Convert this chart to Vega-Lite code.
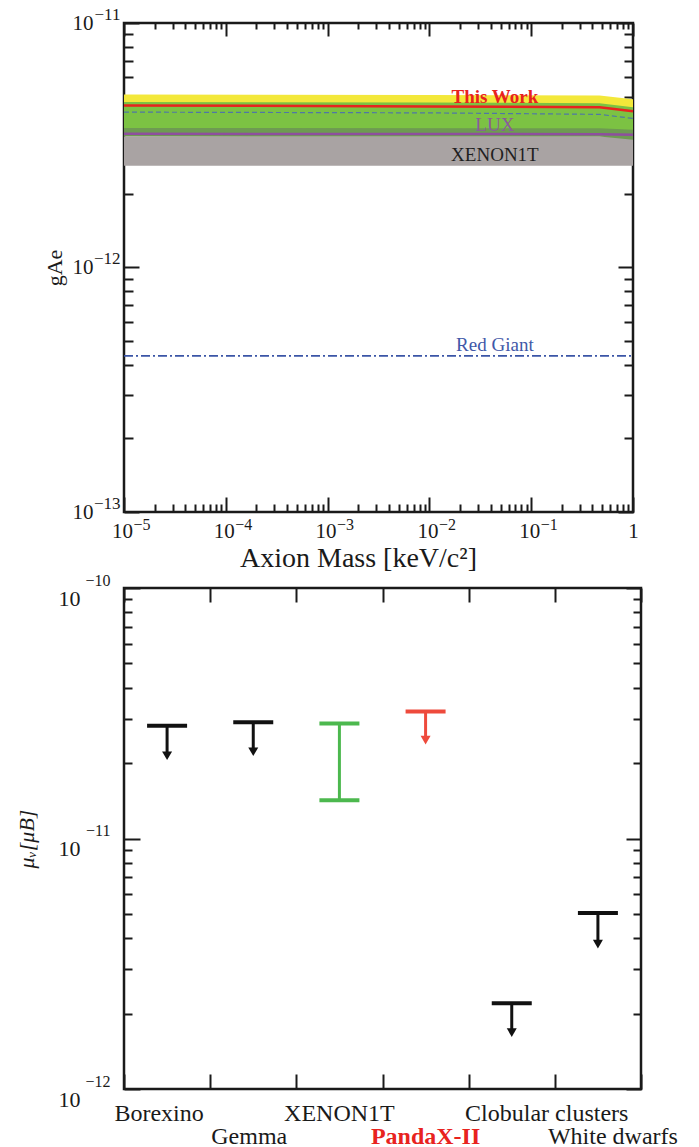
{
  "$schema": "https://vega.github.io/schema/vega-lite/v6.json",
  "padding": {"left": 13, "top": 3, "right": 0, "bottom": 0},
  "bounds": "flush",
  "spacing": 76,
  "config": {
    "view": {"stroke": "#1a1a1a", "strokeWidth": 2.5},
    "font": "Liberation Serif",
    "tick": {"opacity": 1},
    "axis": {
      "domain": false, "grid": false, "tickColor": "#1a1a1a", "tickWidth": 2,
      "labelFont": "Liberation Serif", "titleFont": "Liberation Serif",
      "labelColor": "#1a1a1a", "titleColor": "#1a1a1a", "titleFontWeight": "normal",
      "labelFlush": false, "labelOverlap": false, "labelBound": false, "labelFontSize": 20
    }
  },
  "resolve": {"scale": {"color": "independent"}},
  "datasets": {
    "bands": [
      {"band": "yellow", "mass": 1e-5, "hi": 5.10e-12, "lo": 3.50e-12},
      {"band": "yellow", "mass": 0.01, "hi": 5.08e-12, "lo": 3.50e-12},
      {"band": "yellow", "mass": 0.47, "hi": 5.05e-12, "lo": 3.50e-12},
      {"band": "yellow", "mass": 1, "hi": 4.88e-12, "lo": 3.45e-12},
      {"band": "green", "mass": 1e-5, "hi": 4.75e-12, "lo": 3.55e-12},
      {"band": "green", "mass": 0.01, "hi": 4.73e-12, "lo": 3.55e-12},
      {"band": "green", "mass": 0.47, "hi": 4.70e-12, "lo": 3.55e-12},
      {"band": "green", "mass": 1, "hi": 4.52e-12, "lo": 3.45e-12},
      {"band": "gray", "mass": 1e-5, "hi": 3.44e-12, "lo": 2.61e-12},
      {"band": "gray", "mass": 1, "hi": 3.44e-12, "lo": 2.61e-12},
      {"band": "olive", "mass": 1e-5, "hi": 3.72e-12, "lo": 3.44e-12},
      {"band": "olive", "mass": 0.47, "hi": 3.71e-12, "lo": 3.43e-12},
      {"band": "olive", "mass": 1, "hi": 3.66e-12, "lo": 3.33e-12}
    ],
    "curves": [
      {"curve": "red", "mass": 1e-5, "g": 4.60e-12},
      {"curve": "red", "mass": 0.01, "g": 4.56e-12},
      {"curve": "red", "mass": 0.47, "g": 4.52e-12},
      {"curve": "red", "mass": 1, "g": 4.36e-12},
      {"curve": "dashed", "mass": 1e-5, "g": 4.32e-12},
      {"curve": "dashed", "mass": 0.01, "g": 4.29e-12},
      {"curve": "dashed", "mass": 0.47, "g": 4.23e-12},
      {"curve": "dashed", "mass": 1, "g": 4.07e-12},
      {"curve": "purple", "mass": 1e-5, "g": 3.52e-12},
      {"curve": "purple", "mass": 0.47, "g": 3.51e-12},
      {"curve": "purple", "mass": 1, "g": 3.49e-12},
      {"curve": "redgiant", "mass": 1e-5, "g": 4.35e-13},
      {"curve": "redgiant", "mass": 1, "g": 4.35e-13}
    ],
    "notes": [
      {"note": "This Work", "mass": 0.044, "g": 5.0e-12},
      {"note": "LUX", "mass": 0.044, "g": 3.82e-12},
      {"note": "XENON1T", "mass": 0.044, "g": 2.88e-12},
      {"note": "Red Giant", "mass": 0.044, "g": 4.82e-13}
    ],
    "mu": [
      {"exp": "Borexino", "kind": "limit", "upper": 2.82e-11, "lower": 2.14e-11},
      {"exp": "Gemma", "kind": "limit", "upper": 2.91e-11, "lower": 2.22e-11},
      {"exp": "XENON1T", "kind": "range", "upper": 2.88e-11, "lower": 1.42e-11},
      {"exp": "PandaX-II", "kind": "limit", "upper": 3.21e-11, "lower": 2.47e-11},
      {"exp": "Clobular clusters", "kind": "limit", "upper": 2.2e-12, "lower": 1.68e-12},
      {"exp": "White dwarfs", "kind": "limit", "upper": 5.04e-12, "lower": 3.79e-12}
    ]
  },
  "vconcat": [
    {
      "width": 509, "height": 489,
      "layer": [
        {
          "data": {"name": "bands"}, "transform": [{"filter": "datum.band == 'yellow'"}],
          "mark": {"type": "area", "color": "#F3E83A", "opacity": 1},
          "encoding": {
            "x": {"field": "mass", "type": "quantitative", "scale": {"type": "log", "domain": [1e-5, 1], "nice": false},
              "axis": {"orient": "bottom", "title": null, "labels": false,
                "values": [1e-5,2e-5,3e-5,4e-5,5e-5,6e-5,7e-5,8e-5,9e-5,1e-4,2e-4,3e-4,4e-4,5e-4,6e-4,7e-4,8e-4,9e-4,1e-3,2e-3,3e-3,4e-3,5e-3,6e-3,7e-3,8e-3,9e-3,1e-2,2e-2,3e-2,4e-2,5e-2,6e-2,7e-2,8e-2,9e-2,0.1,0.2,0.3,0.4,0.5,0.6,0.7,0.8,0.9,1],
                "tickSize": {"condition": {"test": "abs(log(datum.value)/LN10 - round(log(datum.value)/LN10)) < 0.001", "value": -15}, "value": -8}}},
            "y": {"field": "hi", "type": "quantitative", "scale": {"type": "log", "domain": [1e-13, 1e-11], "nice": false},
              "axis": {"orient": "left", "title": null, "labels": false,
                "values": [1e-13,2e-13,3e-13,4e-13,5e-13,6e-13,7e-13,8e-13,9e-13,1e-12,2e-12,3e-12,4e-12,5e-12,6e-12,7e-12,8e-12,9e-12,1e-11],
                "tickSize": {"condition": {"test": "abs(log(datum.value)/LN10 - round(log(datum.value)/LN10)) < 0.001", "value": -15}, "value": -9}}},
            "y2": {"field": "lo"}
          }
        },
        {
          "data": {"name": "bands"}, "transform": [{"filter": "datum.band == 'green'"}],
          "mark": {"type": "area", "color": "#7CC243"},
          "encoding": {
            "x": {"field": "mass", "type": "quantitative", "scale": {"type": "log", "domain": [1e-5, 1], "nice": false},
              "axis": {"orient": "bottom", "title": "Axion Mass [keV/c²]", "titleFontSize": 28, "titlePadding": 3, "titleX": 234,
                "values": [1e-5, 1e-4, 1e-3, 1e-2, 0.1, 1], "ticks": false, "tickSize": 0,
                "labelExpr": "datum.value > 0.5 ? '1' : '10'", "labelFontSize": 21, "labelBaseline": "top", "labelPadding": 8,
                "labelOffset": {"condition": {"test": "datum.value > 0.5", "value": 0}, "value": -2}}},
            "y": {"field": "hi", "type": "quantitative", "scale": {"type": "log", "domain": [1e-13, 1e-11], "nice": false},
              "axis": {"orient": "left", "title": "gAe", "titleFontSize": 22, "titlePadding": 6,
                "values": [1e-13, 1e-12, 1e-11], "ticks": false, "tickSize": 0,
                "labelExpr": "'10'", "labelFontSize": 21, "labelBaseline": "middle", "labelPadding": 31}},
            "y2": {"field": "lo"}
          }
        },
        {
          "data": {"name": "bands"}, "transform": [{"filter": "datum.band == 'gray'"}],
          "mark": {"type": "area", "color": "#A9A3A3"},
          "encoding": {
            "x": {"field": "mass", "type": "quantitative", "scale": {"type": "log", "domain": [1e-5, 1], "nice": false},
              "axis": {"orient": "bottom", "title": null,
                "values": [1e-5, 1e-4, 1e-3, 1e-2, 0.1], "ticks": false, "tickSize": 0,
                "labelExpr": "'−' + format(-round(log(datum.value)/LN10), 'd')", "labelFontSize": 16, "labelAlign": "left", "labelBaseline": "top", "labelPadding": 4, "labelOffset": 9}},
            "y": {"field": "hi", "type": "quantitative", "scale": {"type": "log", "domain": [1e-13, 1e-11], "nice": false},
              "axis": {"orient": "left", "title": null,
                "values": [1e-13, 1e-12, 1e-11], "ticks": false, "tickSize": 0,
                "labelExpr": "'−' + format(-round(log(datum.value)/LN10), 'd')", "labelFontSize": 17, "labelBaseline": "middle", "labelPadding": 4, "labelOffset": -9}},
            "y2": {"field": "lo"}
          }
        },
        {
          "data": {"name": "bands"}, "transform": [{"filter": "datum.band == 'olive'"}],
          "mark": {"type": "area", "color": "#6E9A52"},
          "encoding": {
            "x": {"field": "mass", "type": "quantitative", "scale": {"type": "log", "domain": [1e-5, 1], "nice": false}, "axis": null},
            "y": {"field": "hi", "type": "quantitative", "scale": {"type": "log", "domain": [1e-13, 1e-11], "nice": false}, "axis": null},
            "y2": {"field": "lo"}
          }
        },
        {
          "data": {"name": "curves"}, "transform": [{"filter": "datum.curve == 'purple'"}],
          "mark": {"type": "line", "color": "#8E4F9E", "strokeWidth": 2.5},
          "encoding": {
            "x": {"field": "mass", "type": "quantitative", "scale": {"type": "log", "domain": [1e-5, 1], "nice": false}, "axis": null},
            "y": {"field": "g", "type": "quantitative", "scale": {"type": "log", "domain": [1e-13, 1e-11], "nice": false}, "axis": null}
          }
        },
        {
          "data": {"name": "curves"}, "transform": [{"filter": "datum.curve == 'dashed'"}],
          "mark": {"type": "line", "color": "#4F77A6", "strokeWidth": 1.2, "strokeDash": [5, 3]},
          "encoding": {
            "x": {"field": "mass", "type": "quantitative", "scale": {"type": "log", "domain": [1e-5, 1], "nice": false}, "axis": null},
            "y": {"field": "g", "type": "quantitative", "scale": {"type": "log", "domain": [1e-13, 1e-11], "nice": false}, "axis": null}
          }
        },
        {
          "data": {"name": "curves"}, "transform": [{"filter": "datum.curve == 'red'"}],
          "mark": {"type": "line", "color": "#E8231E", "strokeWidth": 2.5},
          "encoding": {
            "x": {"field": "mass", "type": "quantitative", "scale": {"type": "log", "domain": [1e-5, 1], "nice": false}, "axis": null},
            "y": {"field": "g", "type": "quantitative", "scale": {"type": "log", "domain": [1e-13, 1e-11], "nice": false}, "axis": null}
          }
        },
        {
          "data": {"name": "curves"}, "transform": [{"filter": "datum.curve == 'redgiant'"}],
          "mark": {"type": "line", "color": "#3B55A6", "strokeWidth": 1.6, "strokeDash": [9, 3, 2, 3]},
          "encoding": {
            "x": {"field": "mass", "type": "quantitative", "scale": {"type": "log", "domain": [1e-5, 1], "nice": false},
              "axis": {"orient": "top", "title": null, "labels": false,
                "values": [1e-5,2e-5,3e-5,4e-5,5e-5,6e-5,7e-5,8e-5,9e-5,1e-4,2e-4,3e-4,4e-4,5e-4,6e-4,7e-4,8e-4,9e-4,1e-3,2e-3,3e-3,4e-3,5e-3,6e-3,7e-3,8e-3,9e-3,1e-2,2e-2,3e-2,4e-2,5e-2,6e-2,7e-2,8e-2,9e-2,0.1,0.2,0.3,0.4,0.5,0.6,0.7,0.8,0.9,1],
                "tickSize": {"condition": {"test": "abs(log(datum.value)/LN10 - round(log(datum.value)/LN10)) < 0.001", "value": -13}, "value": -6}}},
            "y": {"field": "g", "type": "quantitative", "scale": {"type": "log", "domain": [1e-13, 1e-11], "nice": false},
              "axis": {"orient": "right", "title": null, "labels": false,
                "values": [1e-13,2e-13,3e-13,4e-13,5e-13,6e-13,7e-13,8e-13,9e-13,1e-12,2e-12,3e-12,4e-12,5e-12,6e-12,7e-12,8e-12,9e-12,1e-11],
                "tickSize": {"condition": {"test": "abs(log(datum.value)/LN10 - round(log(datum.value)/LN10)) < 0.001", "value": -15}, "value": -9}}}
          }
        },
        {
          "data": {"name": "notes"}, "transform": [{"filter": "datum.note == 'This Work'"}],
          "mark": {"type": "text", "font": "Liberation Serif", "fontSize": 19, "fontWeight": "bold", "color": "#E8231E"},
          "encoding": {
            "x": {"field": "mass", "type": "quantitative", "scale": {"type": "log", "domain": [1e-5, 1], "nice": false}, "axis": null},
            "y": {"field": "g", "type": "quantitative", "scale": {"type": "log", "domain": [1e-13, 1e-11], "nice": false}, "axis": null},
            "text": {"field": "note"}
          }
        },
        {
          "data": {"name": "notes"}, "transform": [{"filter": "datum.note != 'This Work'"}],
          "mark": {"type": "text", "font": "Liberation Serif", "fontSize": 19},
          "encoding": {
            "x": {"field": "mass", "type": "quantitative", "scale": {"type": "log", "domain": [1e-5, 1], "nice": false}, "axis": null},
            "y": {"field": "g", "type": "quantitative", "scale": {"type": "log", "domain": [1e-13, 1e-11], "nice": false}, "axis": null},
            "text": {"field": "note"},
            "color": {"field": "note", "type": "nominal", "scale": {"domain": ["LUX", "XENON1T", "Red Giant"], "range": ["#8A5A9E", "#1f1f1f", "#3F58A8"]}, "legend": null}
          }
        }
      ],
      "resolve": {"axis": {"x": "independent", "y": "independent"}}
    },
    {
      "width": 517, "height": 501,
      "data": {"name": "mu"},
      "layer": [
        {
          "mark": {"type": "rule", "strokeWidth": 3},
          "encoding": {
            "x": {"field": "exp", "type": "nominal", "sort": null,
              "scale": {"type": "band", "domain": ["Borexino", "Gemma", "XENON1T", "PandaX-II", "Clobular clusters", "White dwarfs"], "paddingInner": 0, "paddingOuter": 0},
              "axis": {"orient": "bottom", "title": null, "labels": false, "tickBand": "extent", "tickSize": -15}},
            "y": {"field": "upper", "type": "quantitative", "scale": {"type": "log", "domain": [1e-12, 1e-10], "nice": false},
              "axis": {"orient": "left", "title": null, "labels": false,
                "values": [1e-12,2e-12,3e-12,4e-12,5e-12,6e-12,7e-12,8e-12,9e-12,1e-11,2e-11,3e-11,4e-11,5e-11,6e-11,7e-11,8e-11,9e-11,1e-10],
                "tickSize": {"condition": {"test": "abs(log(datum.value)/LN10 - round(log(datum.value)/LN10)) < 0.001", "value": -16}, "value": -8}}},
            "y2": {"field": "lower"},
            "color": {"field": "exp", "type": "nominal", "scale": {"domain": ["Borexino", "Gemma", "XENON1T", "PandaX-II", "Clobular clusters", "White dwarfs"], "range": ["#111111", "#111111", "#4CB84E", "#EE4A3C", "#111111", "#111111"]}, "legend": null}
          }
        },
        {
          "mark": {"type": "tick", "thickness": 4, "size": 40, "orient": "horizontal", "opacity": 1},
          "encoding": {
            "x": {"field": "exp", "type": "nominal", "sort": null,
              "scale": {"type": "band", "domain": ["Borexino", "Gemma", "XENON1T", "PandaX-II", "Clobular clusters", "White dwarfs"], "paddingInner": 0, "paddingOuter": 0},
              "axis": {"orient": "bottom", "title": null, "ticks": false, "tickSize": 0, "labelAngle": 0, "labelFontSize": 24, "labelBaseline": "top",
                "labelPadding": {"condition": {"test": "datum.value == 'Gemma' || datum.value == 'PandaX-II' || datum.value == 'White dwarfs'", "value": 35}, "value": 12},
                "labelOffset": {"condition": [{"test": "datum.value == 'Clobular clusters'", "value": 35}, {"test": "datum.value == 'White dwarfs'", "value": 15}, {"test": "datum.value == 'Borexino'", "value": -8}, {"test": "datum.value == 'Gemma'", "value": -4}], "value": 0},
                "labelColor": {"condition": {"test": "datum.value == 'PandaX-II'", "value": "#E8231E"}, "value": "#1a1a1a"},
                "labelFontWeight": {"condition": {"test": "datum.value == 'PandaX-II'", "value": "bold"}, "value": "normal"}}},
            "y": {"field": "upper", "type": "quantitative", "scale": {"type": "log", "domain": [1e-12, 1e-10], "nice": false},
              "axis": {"orient": "left", "title": "μᵥ[μB]", "titleFontSize": 22, "titleFontStyle": "italic", "titlePadding": 20,
                "values": [1e-12, 1e-11, 1e-10], "ticks": false, "tickSize": 0,
                "labelExpr": "'10'", "labelFontSize": 22, "labelBaseline": "top", "labelPadding": 44}},
            "color": {"field": "exp", "type": "nominal", "legend": null}
          }
        },
        {
          "transform": [{"filter": "datum.kind == 'range'"}],
          "mark": {"type": "tick", "thickness": 4, "size": 40, "orient": "horizontal", "opacity": 1},
          "encoding": {
            "x": {"field": "exp", "type": "nominal", "sort": null,
              "scale": {"type": "band", "domain": ["Borexino", "Gemma", "XENON1T", "PandaX-II", "Clobular clusters", "White dwarfs"], "paddingInner": 0, "paddingOuter": 0},
              "axis": {"orient": "top", "title": null, "labels": false, "tickBand": "extent", "tickSize": -14}},
            "y": {"field": "lower", "type": "quantitative", "scale": {"type": "log", "domain": [1e-12, 1e-10], "nice": false},
              "axis": {"orient": "left", "title": null,
                "values": [1e-12, 1e-11, 1e-10], "ticks": false, "tickSize": 0,
                "labelExpr": "'−' + format(-round(log(datum.value)/LN10), 'd')", "labelFontSize": 16, "labelBaseline": "bottom", "labelPadding": 14}},
            "color": {"field": "exp", "type": "nominal", "legend": null}
          }
        },
        {
          "transform": [{"filter": "datum.kind == 'limit'"}],
          "mark": {"type": "point", "shape": "triangle-down", "filled": true, "size": 100, "opacity": 1},
          "encoding": {
            "x": {"field": "exp", "type": "nominal", "sort": null, "axis": null},
            "y": {"field": "lower", "type": "quantitative", "scale": {"type": "log", "domain": [1e-12, 1e-10], "nice": false},
              "axis": {"orient": "right", "title": null, "labels": false,
                "values": [1e-12,2e-12,3e-12,4e-12,5e-12,6e-12,7e-12,8e-12,9e-12,1e-11,2e-11,3e-11,4e-11,5e-11,6e-11,7e-11,8e-11,9e-11,1e-10],
                "tickSize": {"condition": {"test": "abs(log(datum.value)/LN10 - round(log(datum.value)/LN10)) < 0.001", "value": -15}, "value": -8}}},
            "color": {"field": "exp", "type": "nominal", "legend": null}
          }
        }
      ],
      "resolve": {"axis": {"x": "independent", "y": "independent"}}
    }
  ]
}
